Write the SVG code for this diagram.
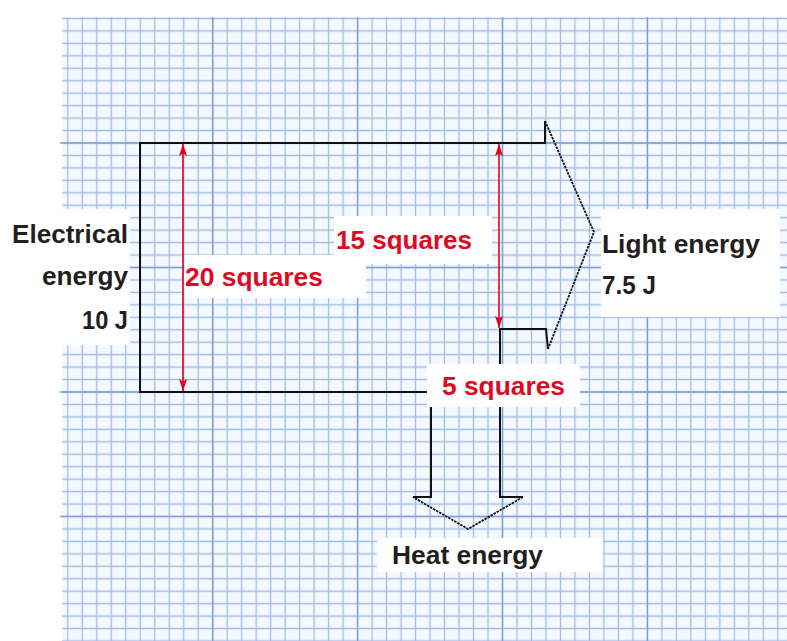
<svg xmlns="http://www.w3.org/2000/svg" width="787" height="641" viewBox="0 0 787 641">
<style>
.lbl{font-family:"Liberation Sans",Arial,sans-serif;font-weight:bold;font-size:25px;fill:#231f20}
.red{fill:#de0a1f}
.box{fill:#ffffff}
.outline{fill:none;stroke:#111;stroke-width:2}
.dash{fill:none;stroke:#111;stroke-width:1.8;stroke-dasharray:2.5 1}
.dim{fill:none;stroke:#e2001a;stroke-width:1.6}
.major{stroke:#7f9fd8;stroke-width:1.4;fill:none}
</style>
<defs>
<pattern id="minor" x="60.555" y="12.275" width="14.49" height="12.45" patternUnits="userSpaceOnUse">
<path d="M7.245,0V12.45M0,6.225H14.49" stroke="#a2bbe6" stroke-width="1.3" fill="none"/>
</pattern>
<marker id="ah" viewBox="0 0 12 8" refX="12" refY="4" markerWidth="12" markerHeight="8" markerUnits="userSpaceOnUse" orient="auto-start-reverse">
<path d="M0,0 L12,4 L0,8 L2.5,4 Z" fill="#e2001a"/>
</marker>
</defs>
<rect width="787" height="641" fill="#ffffff"/>
<g id="grid">
<rect x="62" y="17" width="725" height="624" fill="#f3f9fe"/>
<rect x="62" y="17" width="725" height="624" fill="url(#minor)"/>
<path class="major" d="M212.7,17V641M357.6,17V641M502.5,17V641M647.4,17V641M60,143H787M60,267.5H787M60,392H787M60,516.5H787"/>
</g>
<g id="connectors">
<path class="outline" d="M413,497 H431 V392 H140 V143 H545 V121"/>
<path class="outline" d="M548,349 L546,329 H500 V497 H523"/>
<path class="dash" d="M545,121 L594,232 L548,349"/>
<path class="dash" d="M523,497 L468,529 L413,497"/>
<path class="dim" d="M183,144 V391" marker-start="url(#ah)" marker-end="url(#ah)"/>
<path class="dim" d="M499,144 V328" marker-start="url(#ah)" marker-end="url(#ah)"/>
</g>
<g id="electrical">
<rect class="box" x="0" y="209" width="130" height="136"/>
<text class="lbl" x="12" y="243" textLength="116" lengthAdjust="spacingAndGlyphs">Electrical</text>
<text class="lbl" x="42" y="285" textLength="86" lengthAdjust="spacingAndGlyphs">energy</text>
<text class="lbl" x="82" y="329" textLength="46" lengthAdjust="spacingAndGlyphs">10 J</text>
</g>
<g id="label15">
<rect class="box" x="334" y="216" width="158" height="48"/>
<text class="lbl red" x="336" y="249" textLength="136" lengthAdjust="spacingAndGlyphs">15 squares</text>
</g>
<g id="label20">
<rect class="box" x="184.5" y="255" width="181.5" height="43"/>
<text class="lbl red" x="185" y="286" textLength="138" lengthAdjust="spacingAndGlyphs">20 squares</text>
</g>
<g id="light">
<rect class="box" x="601" y="209" width="179" height="108"/>
<text class="lbl" x="602" y="253" textLength="158" lengthAdjust="spacingAndGlyphs">Light energy</text>
<text class="lbl" x="602" y="294" textLength="54" lengthAdjust="spacingAndGlyphs">7.5 J</text>
</g>
<g id="label5">
<rect class="box" x="427" y="364" width="153" height="43"/>
<text class="lbl red" x="442" y="395" textLength="123" lengthAdjust="spacingAndGlyphs">5 squares</text>
</g>
<g id="heat">
<rect class="box" x="377" y="538" width="226" height="34"/>
<text class="lbl" x="392" y="564" textLength="151" lengthAdjust="spacingAndGlyphs">Heat energy</text>
</g>
</svg>
